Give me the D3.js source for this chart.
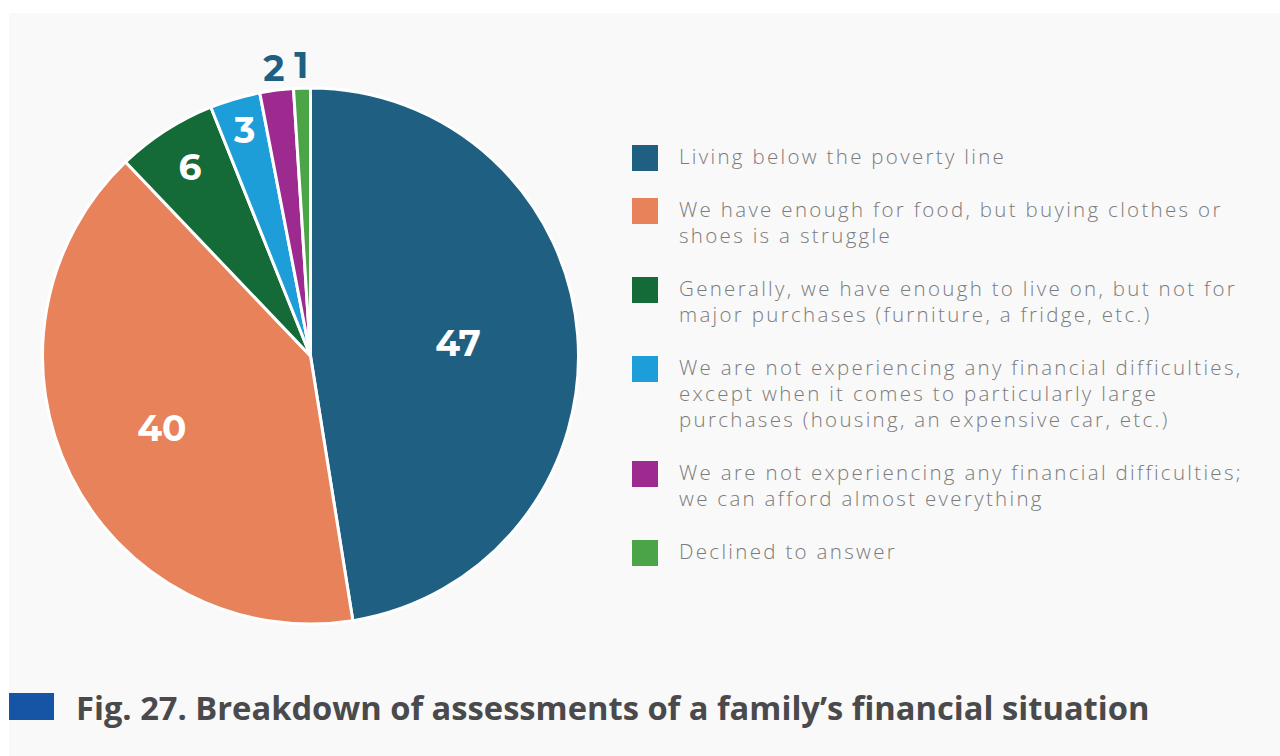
<!DOCTYPE html>
<html><head><meta charset="utf-8">
<script src="https://cdn.jsdelivr.net/npm/d3@7"></script>
<style>body{margin:0;background:#fff}svg{display:block}</style>
</head><body><svg id="c" width="1280" height="756"></svg>
<script>
const categories = [
  ["Living below the poverty line"],
  ["We have enough for food, but buying clothes or", "shoes is a struggle"],
  ["Generally, we have enough to live on, but not for", "major purchases (furniture, a fridge, etc.)"],
  ["We are not experiencing any financial difficulties,", "except when it comes to particularly large", "purchases (housing, an expensive car, etc.)"],
  ["We are not experiencing any financial difficulties;", "we can afford almost everything"],
  ["Declined to answer"]
];
const values = [47, 40, 6, 3, 2, 1];
const colors = ["#1f5f81", "#e8825a", "#156b37", "#1e9ed8", "#9c2a8f", "#4ba546"];
const titleText = "Fig. 27. Breakdown of assessments of a family’s financial situation";

// layout
const W = 1280, H = 756;
const cx = 310.5, cy = 356, R = 268;
const labelRadii = [148, 166, 223, 234, 289, 290];
const labelColors = ["#fff", "#fff", "#fff", "#fff", "#1f5f81", "#1f5f81"];

const svg = d3.select("#c");
svg.append("rect").attr("x", 9).attr("y", 13).attr("width", W - 9).attr("height", H - 13).attr("fill", "#f9f9f9");

const pie = d3.pie().sort(null).value(d => d).startAngle(0).endAngle(2 * Math.PI);
const arcs = pie(values);
const arc = d3.arc().innerRadius(0).outerRadius(R);
const g = svg.append("g").attr("transform", `translate(${cx},${cy})`);
g.selectAll("path").data(arcs).join("path")
  .attr("d", arc)
  .attr("fill", (d, i) => colors[i])
  .attr("stroke", "#fff").attr("stroke-width", 3).attr("stroke-linejoin", "round");

g.selectAll("text.lbl").data(arcs).join("text").attr("class", "lbl")
  .attr("transform", (d, i) => {
    const r = labelRadii[i];
    const c = d3.arc().innerRadius(r).outerRadius(r).centroid(d);
    return `translate(${c[0]},${c[1] - 1.5})`;
  })
  .attr("text-anchor", "middle").attr("dy", "0.36em")
  .attr("font-family", "Montserrat, 'Open Sans', Lato, sans-serif")
  .attr("font-weight", 700).attr("font-size", 36)
  .attr("fill", (d, i) => labelColors[i])
  .text(d => d.data);

// legend
const lx = 632, textX = 679, lineH = 26, gap = 27, sq = 26;
const legFs = 20.5;
let y = 157;
const leg = svg.append("g");
categories.forEach((lines, i) => {
  leg.append("rect").attr("x", lx).attr("y", y - 12).attr("width", sq).attr("height", sq).attr("fill", colors[i]);
  const t = leg.append("text").attr("x", textX).attr("y", y)
    .attr("font-family", "'Open Sans', Lato, sans-serif").attr("font-weight", 300)
    .attr("font-size", legFs).attr("fill", "#7b7b7b");
  lines.forEach((ln, j) => {
    t.append("tspan").attr("x", textX).attr("dy", j === 0 ? "0.35em" : lineH).text(ln);
  });
  y += lines.length * lineH + gap;
});
// widen spacing so the longest line spans ~564px like the reference
let maxW = 0, maxLen = 1;
leg.selectAll("tspan").each(function () {
  const w = this.getComputedTextLength();
  if (w > maxW) { maxW = w; maxLen = this.textContent.length; }
});
const ls = Math.max(0, (564 - maxW) / maxLen);
leg.selectAll("text").attr("letter-spacing", ls);

// title
svg.append("rect").attr("x", 9).attr("y", 693).attr("width", 45).attr("height", 27).attr("fill", "#1655a5");
const tt = svg.append("text").attr("x", 76).attr("y", 720)
  .attr("font-family", "'Open Sans', Roboto, sans-serif").attr("font-weight", 700)
  .attr("font-size", 30).attr("fill", "#4a4a4c").text(titleText);
const tw = tt.node().getComputedTextLength();
tt.attr("font-size", 30 * 1074 / tw);
</script></body></html>
